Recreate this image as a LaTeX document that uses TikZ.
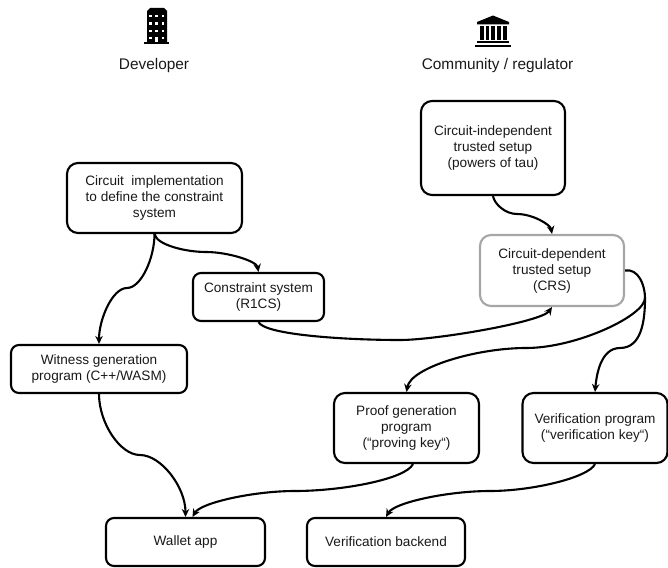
\documentclass[tikz,border=0pt]{standalone}
\usepackage{fontspec}
\setmainfont{Liberation Sans}
\usetikzlibrary{arrows.meta,calc}
\tikzset{
  boxbase/.style={draw=black,line width=2.1pt,fill=white,align=center,inner sep=0pt,text=black!90,
    font=\fontsize{13.6}{16}\selectfont},
  smallbox/.style={boxbase,rounded corners=8pt},
  bigbox/.style={boxbase,rounded corners=11pt},
  greybox/.style={bigbox,draw=black!35},
  head/.style={font=\fontsize{15.4}{18}\selectfont,text=black!90,inner sep=0pt},
  conn/.style={line width=2.1pt,draw=black,-{Stealth[length=8pt,width=7.5pt]}},
  seg/.style={line width=2.1pt,draw=black},
}
\begin{document}
\begin{tikzpicture}[x=1pt,y=-1pt]
\useasboundingbox (0,0) rectangle (668,567);
% headings
\node[head] (dev) at (154,66) {Developer};
\node[head] (com) at (497.5,66) {Community / regulator};
% building icon
\fill[black] (147,42) -- (147,11) -- (150,8) -- (164,8) -- (167,11) -- (167,42) -- cycle;
\fill[black] (144,42) rectangle (169,44.5);
\foreach \yy in {15,22.5,30}{\foreach \xx in {149,155,161.5}{\fill[white] (\xx,\yy) rectangle +(2.6,2.4);}}
\fill[white] (149,37) rectangle +(2.6,2.4);
\fill[white] (161.5,37) rectangle +(2.6,2.4);
\fill[white] (155,37) rectangle +(2.6,5);
% bank icon
\fill[black] (493,15.5) -- (509,22) -- (509,24.5) -- (477,24.5) -- (477,22) -- cycle;
\foreach \xx in {482,487.5,493,499,505}{\fill[black] (\xx-1.9,26) rectangle (\xx+1.9,40.5);}
\fill[black] (477,41.5) rectangle (509,43);
\fill[black] (475,45.5) rectangle (511,47.5);
% nodes
\node[bigbox,minimum width=175pt,minimum height=70pt] (circ) at (154.5,198) {Circuit\ \ implementation\\to define the constraint\\system};
\node[smallbox,minimum width=131pt,minimum height=48pt] (cons) at (258.5,297) {Constraint system\\(R1CS)};
\node[smallbox,minimum width=176pt,minimum height=48pt] (wit) at (99,369) {Witness generation\\program (C++/WASM)};
\node[bigbox,minimum width=144pt,minimum height=94pt] (ind) at (493,148) {Circuit-independent\\trusted setup\\(powers of tau)};
\node[greybox,minimum width=144pt,minimum height=71pt] (dep) at (552,270.5) {Circuit-dependent\\trusted setup\\(CRS)};
\node[bigbox,minimum width=145pt,minimum height=70pt] (prf) at (406.5,428) {Proof generation\\program\\(“proving key“)};
\node[bigbox,minimum width=145pt,minimum height=70pt] (ver) at (595,428) {Verification program\\(“verification key“)};
\node[smallbox,minimum width=159pt,minimum height=48pt] (wal) at (185.5,542) {Wallet app};
\node[smallbox,minimum width=158pt,minimum height=48pt] (bak) at (386,542) {Verification backend};
% way points
\coordinate (m1) at (127,288);
\coordinate (m2) at (206,252);
\coordinate (m3) at (400,340);
\coordinate (m4) at (517,214);
\coordinate (j) at (645,298);
\coordinate (m5) at (526,348);
\coordinate (m6) at (620,348);
\coordinate (m7) at (140,455);
\coordinate (m8) at (295,491);
\coordinate (m9) at (490,491);
% connectors
\draw[conn] (circ.south) to[out=-90,in=0,in looseness=.6] (m1) to[out=180,in=90,out looseness=.6] (wit.north);
\draw[conn] (circ.south) to[out=-80,in=180,out looseness=.5] (m2) to[out=0,in=100,in looseness=.5] (cons.north);
\draw[conn] (cons.south) to[out=-65,in=180,out looseness=.25] (m3) to[out=0,in=-125,in looseness=.3,out looseness=.6] (dep.south);
\draw[conn] (ind.south) to[out=-80,in=180,out looseness=.7] (m4) to[out=0,in=100,in looseness=.6] (dep.north);
\draw[seg] (dep.east) to[out=10,in=90] (j);
\draw[conn] (j) to[out=-90,in=0,out looseness=.35] (m5) to[out=180,in=80,in looseness=.5] (prf.north);
\draw[conn] (j) to[out=-90,in=0] (m6) to[out=180,in=85,in looseness=.8] (ver.north);
\draw[conn] (wit.south) to[out=-90,in=180,in looseness=.7] (m7) to[out=0,in=90,out looseness=.7] (wal.north);
\draw[conn] ([xshift=6.5pt]prf.south) to[out=-115,in=0,out looseness=.35] (m8) to[out=180,in=60,in looseness=.4] ([xshift=7pt]wal.north);
\draw[conn] (ver.south) to[out=-115,in=0,out looseness=.35] (m9) to[out=180,in=60,in looseness=.4] (bak.north);
\end{tikzpicture}
\end{document}
